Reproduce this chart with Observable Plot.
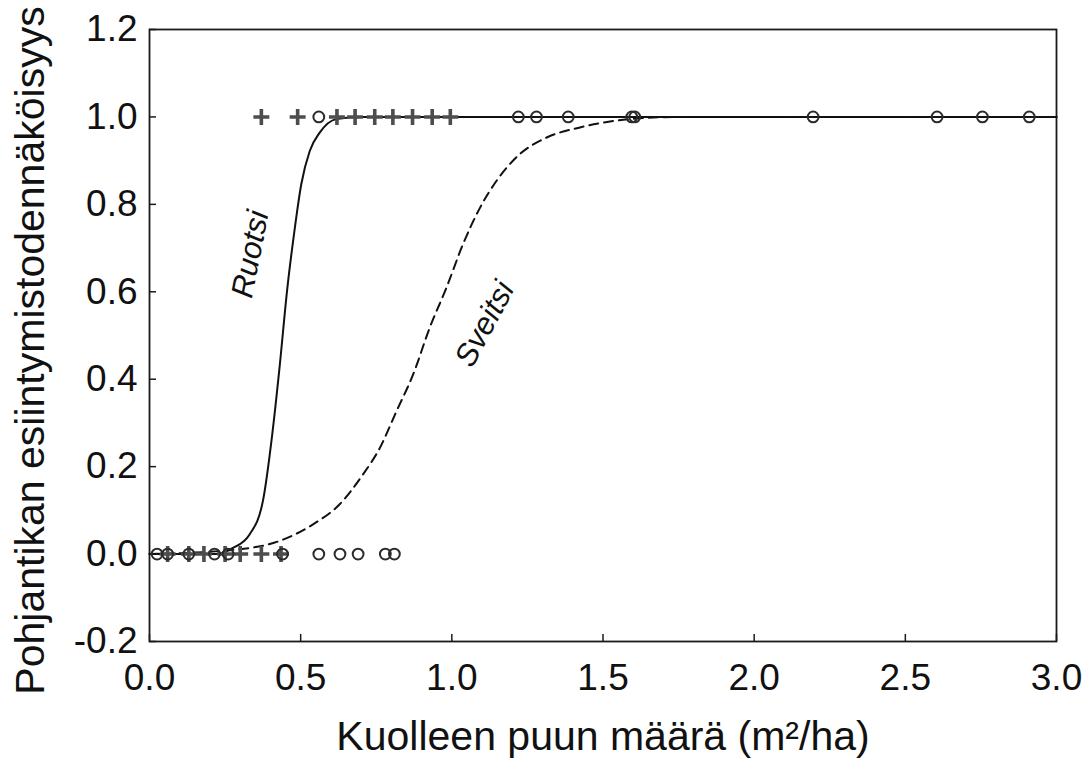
<!DOCTYPE html>
<html><head><meta charset="utf-8">
<script src="https://cdn.jsdelivr.net/npm/d3@7"></script>
<script src="https://cdn.jsdelivr.net/npm/@observablehq/plot@0.6"></script>
<style>body{margin:0;background:#fff;}</style>
</head><body><div id="chart"></div>
<script>
// Observations: Ruotsi (+), Sveitsi (o); y = 0 absent, 1 present
const ruotsiAbsentX = [0.06, 0.13, 0.18, 0.25, 0.30, 0.37, 0.435];
const ruotsiPresentX = [0.37, 0.49, 0.62, 0.68, 0.745, 0.805, 0.87, 0.935, 0.995];
const sveitsiAbsentX = [0.025, 0.06, 0.13, 0.215, 0.26, 0.44, 0.56, 0.63, 0.69, 0.78, 0.81];
const sveitsiPresentX = [0.56, 1.22, 1.28, 1.385, 1.595, 1.605, 2.195, 2.605, 2.755, 2.91];

// Fitted curves
const ruotsiCurveX = [0, 0.22, 0.276, 0.331, 0.375, 0.406, 0.43, 0.456, 0.478, 0.502, 0.53, 0.563, 0.618, 0.7, 3.0];
const ruotsiCurveY = [0, 0, 0.014, 0.045, 0.121, 0.274, 0.426, 0.609, 0.732, 0.846, 0.922, 0.964, 0.995, 1.0, 1.0];
const sveitsiCurveX = [0, 0.265, 0.43, 0.541, 0.629, 0.706, 0.762, 0.817, 0.872, 0.927, 0.982, 1.037, 1.093, 1.148, 1.225, 1.314, 1.424, 1.589, 1.75, 3.0];
const sveitsiCurveY = [0, 0.009, 0.03, 0.068, 0.114, 0.182, 0.243, 0.327, 0.411, 0.518, 0.609, 0.709, 0.792, 0.854, 0.915, 0.953, 0.976, 0.995, 1.0, 1.0];

const xTicks = [0, 0.5, 1.0, 1.5, 2.0, 2.5, 3.0];
const yTicks = [-0.2, 0, 0.2, 0.4, 0.6, 0.8, 1.0, 1.2];
const xTitle = "Kuolleen puun määrä (m²/ha)";
const yTitle = "Pohjantikan esiintymistodennäköisyys";
const curveLabels = [
  {name: "Ruotsi", x: 0.334, y: 0.686, angle: -79},
  {name: "Sveitsi", x: 1.109, y: 0.526, angle: -62}
];

const pts = (xs, y) => xs.map(x => ({x, y}));
const curve = (xs, ys) => xs.map((x, i) => ({x, y: ys[i]}));
const fmt = d => d3.format(".1f")(d).replace("−", "-");

const chart = Plot.plot({
  width: 1089,
  height: 760,
  marginLeft: 149,
  marginRight: 33,
  marginTop: 29,
  marginBottom: 119,
  style: {fontFamily: "'Liberation Sans', Arial, sans-serif", fontSize: "37px", color: "#111", background: "#fff"},
  x: {domain: [0, 3]},
  y: {domain: [-0.2, 1.2]},
  marks: [
    Plot.frame({stroke: "#1a1a1a", strokeWidth: 1.8}),
    Plot.axisX({ticks: xTicks, tickFormat: fmt, tickSize: -7, tickPadding: 29, label: null, fontSize: 37, stroke: "#1a1a1a", strokeWidth: 1.5}),
    Plot.axisY({ticks: yTicks, tickFormat: fmt, tickSize: -7, tickPadding: 19, label: null, fontSize: 37, stroke: "#1a1a1a", strokeWidth: 1.5}),
    Plot.line(curve(ruotsiCurveX, ruotsiCurveY), {x: "x", y: "y", curve: "monotone-x", stroke: "#111", strokeWidth: 2}),
    Plot.line(curve(sveitsiCurveX, sveitsiCurveY), {x: "x", y: "y", curve: "monotone-x", stroke: "#111", strokeWidth: 2, strokeDasharray: "9,6"}),
    Plot.dot(pts(ruotsiAbsentX, 0).concat(pts(ruotsiPresentX, 1)), {x: "x", y: "y", symbol: "plus", r: 5.2, stroke: "#4d4d4d", strokeWidth: 3.6}),
    Plot.dot(pts(sveitsiAbsentX, 0).concat(pts(sveitsiPresentX, 1)), {x: "x", y: "y", symbol: "circle", r: 5.4, stroke: "#2b2b2b", strokeWidth: 2, fill: "none"}),
    Plot.text(curveLabels, {x: "x", y: "y", text: "name", rotate: "angle", fontSize: 31, fontStyle: "italic", fill: "#111"}),
    Plot.text([xTitle], {text: d => d, frameAnchor: "bottom", textAnchor: "middle", dy: 108, fontSize: 41, fill: "#111"}),
    Plot.text([yTitle], {text: d => d, frameAnchor: "left", textAnchor: "middle", lineAnchor: "middle", dx: -119, dy: 15, rotate: -90, fontSize: 41, fill: "#111"})
  ]
});
document.getElementById("chart").appendChild(chart);
</script>
</body></html>
